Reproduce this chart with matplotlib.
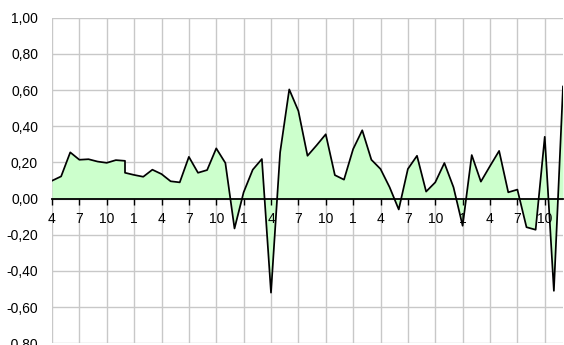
import matplotlib
matplotlib.use("Agg")
import matplotlib.pyplot as plt
from matplotlib.ticker import FuncFormatter, MultipleLocator
import pandas as pd

plt.rcParams["font.family"] = ["Liberation Sans", "DejaVu Sans"]

# Monthly change series, April 2004 - December 2008 (December 2004 reported twice)
start = "2004-04"
end = "2008-12"
repeated_month = "2004-12"

values = [
    0.099, 0.123, 0.256, 0.215, 0.218, 0.205, 0.198, 0.213, 0.209, 0.143,
    0.131, 0.121, 0.160, 0.136, 0.096, 0.090, 0.231, 0.143, 0.158, 0.278,
    0.197, -0.165, 0.035, 0.160, 0.219, -0.520, 0.256, 0.604, 0.485, 0.237,
    0.295, 0.356, 0.130, 0.105, 0.274, 0.378, 0.215, 0.164, 0.063, -0.060,
    0.164, 0.237, 0.039, 0.090, 0.197, 0.063, -0.150, 0.241, 0.094, 0.180,
    0.264, 0.035, 0.050, -0.158, -0.172, 0.342, -0.510, 0.620,
]

periods = list(pd.period_range(start, end, freq="M"))
rep = pd.Period(repeated_month, freq="M")
periods.insert(periods.index(rep) + 1, rep)
first = pd.Period(start, freq="M")
x = [(p - first).n for p in periods]

y_min, y_max, y_step = -0.8, 1.0, 0.2
label_every = 3
grid_color = "#c8c8c8"

fig = plt.figure(figsize=(5.64, 3.45), dpi=100)
ax = fig.add_axes([52 / 564, 1.7 / 345, 511 / 564, 325.5 / 345])

ax.fill_between(x, values, 0, color="#ccffcc", linewidth=0, zorder=2)
ax.plot(x, values, color="black", linewidth=1.25, zorder=3)

ax.set_xlim(0, x[-1])
ax.set_ylim(y_min, y_max)

all_months = pd.period_range(start, end, freq="M")
tick_pos = list(range(0, len(all_months), label_every))
ax.set_xticks(tick_pos)
ax.set_xticklabels([str(all_months[i].month) for i in tick_pos])
ax.yaxis.set_major_locator(MultipleLocator(y_step))
ax.yaxis.set_major_formatter(FuncFormatter(lambda v, _: f"{v:.2f}".replace(".", ",")))

# horizontal grid from the y axis; vertical grid drawn beneath the area so the
# month labels (kept on top) stay readable over the fill
ax.grid(True, axis="y", color=grid_color, linewidth=1.0)
ax.vlines(tick_pos, y_min, y_max, colors=grid_color, linewidth=1.0, zorder=0.5)
ax.yaxis.set_zorder(0.5)
ax.xaxis.set_zorder(5)

ax.spines["bottom"].set_position(("data", 0))
ax.spines["bottom"].set_color("black")
ax.spines["bottom"].set_linewidth(1.3)
ax.spines["bottom"].set_zorder(4)
for side in ("left", "right", "top"):
    ax.spines[side].set_visible(False)

ax.tick_params(axis="x", direction="out", length=4, width=1, color="black",
               labelsize=10, pad=5.5)
ax.tick_params(axis="y", length=0, labelsize=10, pad=10)

fig.savefig("out.png", dpi=100)
